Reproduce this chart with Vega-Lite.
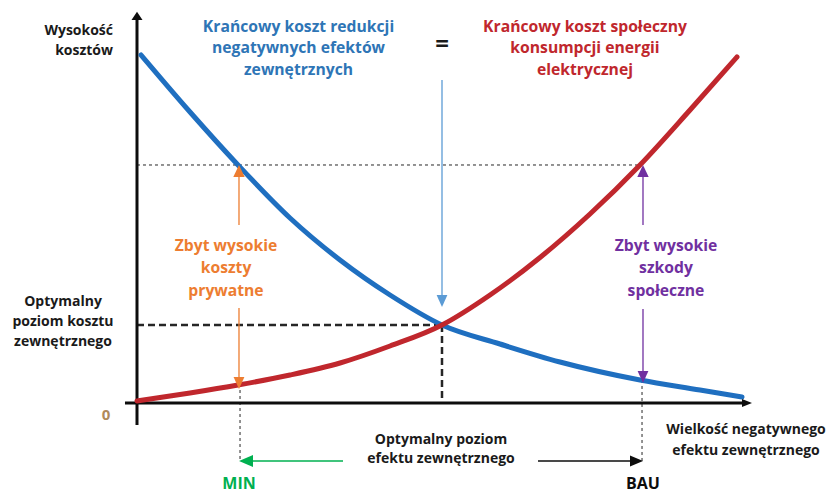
{
  "$schema": "https://vega.github.io/schema/vega-lite/v6.json",
  "width": 839,
  "height": 495,
  "padding": 0,
  "autosize": {"type": "none"},
  "background": "white",
  "config": {"view": {"stroke": null}, "font": "Open Sans"},
  "encoding": {
    "x": {"field": "x", "type": "quantitative", "scale": {"domain": [-22.459, 115.082], "nice": false, "zero": false}, "axis": null},
    "y": {"field": "y", "type": "quantitative", "scale": {"domain": [-26.59, 116.474], "nice": false, "zero": false}, "axis": null},
    "color": {
      "field": "s", "type": "nominal", "legend": null,
      "scale": {
        "domain": ["axis", "mac", "mac_text", "mac_arrow", "msc", "msc_text", "private", "social", "min", "bau", "guide", "label", "zero"],
        "range": ["#0d0d0d", "#1f6fc0", "#2e75b6", "#5b9bd5", "#c0272d", "#c0272d", "#ed7d31", "#7030a0", "#00b050", "#0d0d0d", "#262626", "#1a1a1a", "#b08a5a"]
      }
    }
  },
  "layer": [
    {
      "data": {"values": [
        {"s": "guide", "x": 0, "y": 68.79, "x2": 82.79, "y2": 68.79},
        {"s": "guide", "x": 16.89, "y": 5.49, "x2": 16.89, "y2": -17.05},
        {"s": "guide", "x": 82.79, "y": 6.65, "x2": 82.79, "y2": -17.05}
      ]},
      "mark": {"type": "rule", "strokeWidth": 1, "strokeDash": [3, 3]},
      "encoding": {"x2": {"field": "x2"}, "y2": {"field": "y2"}}
    },
    {
      "data": {"values": [
        {"s": "guide", "x": 0, "y": 22.54, "x2": 50, "y2": 22.54},
        {"s": "guide", "x": 50, "y": 22.54, "x2": 50, "y2": 0}
      ]},
      "mark": {"type": "rule", "strokeWidth": 2.5, "strokeDash": [7, 4]},
      "encoding": {"x2": {"field": "x2"}, "y2": {"field": "y2"}}
    },
    {
      "data": {"values": [
        {"s": "axis", "x": 0, "y": -6.36, "x2": 0, "y2": 111.0},
        {"s": "axis", "x": -1.97, "y": 0, "x2": 99.5, "y2": 0}
      ]},
      "mark": {"type": "rule", "strokeWidth": 3},
      "encoding": {"x2": {"field": "x2"}, "y2": {"field": "y2"}}
    },
    {
      "data": {"values": [
        {"s": "mac", "x": 0.66, "y": 100.58},
        {"s": "mac", "x": 8.69, "y": 84.10},
        {"s": "mac", "x": 16.56, "y": 68.79},
        {"s": "mac", "x": 25.08, "y": 53.47},
        {"s": "mac", "x": 33.28, "y": 41.33},
        {"s": "mac", "x": 41.48, "y": 31.21},
        {"s": "mac", "x": 50.0, "y": 22.54},
        {"s": "mac", "x": 59.51, "y": 17.05},
        {"s": "mac", "x": 69.34, "y": 11.85},
        {"s": "mac", "x": 82.46, "y": 6.65},
        {"s": "mac", "x": 92.30, "y": 3.76},
        {"s": "mac", "x": 99.18, "y": 1.73}
      ]},
      "mark": {"type": "line", "strokeWidth": 5, "interpolate": "monotone", "strokeCap": "round"}
    },
    {
      "data": {"values": [
        {"s": "msc", "x": 0, "y": 0.58},
        {"s": "msc", "x": 8.69, "y": 2.89},
        {"s": "msc", "x": 16.56, "y": 5.20},
        {"s": "msc", "x": 25.08, "y": 8.09},
        {"s": "msc", "x": 33.28, "y": 11.56},
        {"s": "msc", "x": 41.48, "y": 16.47},
        {"s": "msc", "x": 50.0, "y": 22.54},
        {"s": "msc", "x": 57.87, "y": 31.21},
        {"s": "msc", "x": 66.07, "y": 42.05},
        {"s": "msc", "x": 74.26, "y": 54.62},
        {"s": "msc", "x": 82.46, "y": 68.79},
        {"s": "msc", "x": 90.66, "y": 84.68},
        {"s": "msc", "x": 98.36, "y": 100.0}
      ]},
      "mark": {"type": "line", "strokeWidth": 5, "interpolate": "monotone", "strokeCap": "round"}
    },
    {
      "data": {"values": [
        {"s": "mac_arrow", "x": 50, "y": 93.35, "x2": 50, "y2": 29.77},
        {"s": "private", "x": 16.72, "y": 51.45, "x2": 16.72, "y2": 66.76},
        {"s": "private", "x": 16.72, "y": 27.46, "x2": 16.72, "y2": 6.65},
        {"s": "social", "x": 82.95, "y": 51.45, "x2": 82.95, "y2": 66.76},
        {"s": "social", "x": 82.95, "y": 27.17, "x2": 82.95, "y2": 8.96},
        {"s": "min", "x": 17.87, "y": -16.76, "x2": 33.77, "y2": -16.76},
        {"s": "bau", "x": 65.74, "y": -16.76, "x2": 81.89, "y2": -16.76}
      ]},
      "mark": {"type": "rule", "strokeWidth": 1.3},
      "encoding": {"x2": {"field": "x2"}, "y2": {"field": "y2"}}
    },
    {
      "data": {"values": [{"s": "axis", "x": 0, "y": 111.85}]},
      "mark": {"type": "point", "filled": true, "opacity": 1, "size": 121, "shape": "M0,-0.75L1,0.75L-1,0.75Z"}
    },
    {
      "data": {"values": [{"s": "axis", "x": 100.0, "y": 0}]},
      "mark": {"type": "point", "filled": true, "opacity": 1, "size": 100, "shape": "M1,0L-1,-0.8L-1,0.8Z"}
    },
    {
      "data": {"values": [
        {"s": "mac_arrow", "x": 50, "y": 29.48},
        {"s": "private", "x": 16.72, "y": 5.78},
        {"s": "social", "x": 82.95, "y": 7.51}
      ]},
      "mark": {"type": "point", "filled": true, "opacity": 1, "size": 144, "shape": "M0,1L0.9,-1L-0.9,-1Z"}
    },
    {
      "data": {"values": [
        {"s": "private", "x": 16.72, "y": 67.05},
        {"s": "social", "x": 82.95, "y": 67.05}
      ]},
      "mark": {"type": "point", "filled": true, "opacity": 1, "size": 144, "shape": "M0,-1L0.95,1L-0.95,1Z"}
    },
    {
      "data": {"values": [{"s": "min", "x": 17.87, "y": -16.76}]},
      "mark": {"type": "point", "filled": true, "opacity": 1, "size": 196, "shape": "M-1,0L1,-0.85L1,0.85Z"}
    },
    {
      "data": {"values": [{"s": "bau", "x": 81.89, "y": -16.76}]},
      "mark": {"type": "point", "filled": true, "opacity": 1, "size": 169, "shape": "M1,0L-1,-0.85L-1,0.85Z"}
    },
    {
      "data": {"values": [
        {"s": "mac_text", "x": 26.48, "y": 108.67, "t": "Krańcowy koszt redukcji"},
        {"s": "mac_text", "x": 26.48, "y": 102.60, "t": "negatywnych efektów"},
        {"s": "mac_text", "x": 26.48, "y": 96.24, "t": "zewnętrznych"},
        {"s": "msc_text", "x": 73.44, "y": 108.67, "t": "Krańcowy koszt społeczny"},
        {"s": "msc_text", "x": 73.44, "y": 102.60, "t": "konsumpcji energii"},
        {"s": "msc_text", "x": 73.44, "y": 96.24, "t": "elektrycznej"},
        {"s": "private", "x": 14.59, "y": 45.38, "t": "Zbyt wysokie"},
        {"s": "private", "x": 14.59, "y": 39.02, "t": "koszty"},
        {"s": "private", "x": 14.59, "y": 32.37, "t": "prywatne"},
        {"s": "social", "x": 86.72, "y": 45.38, "t": "Zbyt wysokie"},
        {"s": "social", "x": 86.72, "y": 39.02, "t": "szkody"},
        {"s": "social", "x": 86.72, "y": 32.37, "t": "społeczne"}
      ]},
      "mark": {"type": "text", "font": "Open Sans", "fontWeight": "bold", "fontSize": 15.7, "align": "center", "baseline": "middle"},
      "encoding": {"text": {"field": "t"}}
    },
    {
      "data": {"values": [
        {"s": "label", "x": -12.13, "y": 29.19, "t": "Optymalny"},
        {"s": "label", "x": -12.13, "y": 23.41, "t": "poziom kosztu"},
        {"s": "label", "x": -12.13, "y": 17.63, "t": "zewnętrznego"},
        {"s": "label", "x": 49.84, "y": -10.69, "t": "Optymalny poziom"},
        {"s": "label", "x": 49.84, "y": -16.18, "t": "efektu zewnętrznego"},
        {"s": "label", "x": 99.84, "y": -7.80, "t": "Wielkość negatywnego"},
        {"s": "label", "x": 99.84, "y": -13.87, "t": "efektu zewnętrznego"}
      ]},
      "mark": {"type": "text", "font": "Open Sans", "fontWeight": "bold", "fontSize": 14, "align": "center", "baseline": "middle"},
      "encoding": {"text": {"field": "t"}}
    },
    {
      "data": {"values": [
        {"s": "label", "x": -3.93, "y": 107.51, "t": "Wysokość"},
        {"s": "label", "x": -3.93, "y": 101.73, "t": "kosztów"}
      ]},
      "mark": {"type": "text", "font": "Open Sans", "fontWeight": "bold", "fontSize": 14, "align": "right", "baseline": "middle"},
      "encoding": {"text": {"field": "t"}}
    },
    {
      "data": {"values": [{"s": "label", "x": 50, "y": 103.47, "t": "="}]},
      "mark": {"type": "text", "font": "Open Sans", "fontWeight": "bold", "fontSize": 24, "align": "center", "baseline": "middle"},
      "encoding": {"text": {"field": "t"}}
    },
    {
      "data": {"values": [
        {"s": "min", "x": 16.72, "y": -23.41, "t": "MIN"},
        {"s": "bau", "x": 82.95, "y": -23.41, "t": "BAU"}
      ]},
      "mark": {"type": "text", "font": "Open Sans", "fontWeight": "bold", "fontSize": 16, "align": "center", "baseline": "middle"},
      "encoding": {"text": {"field": "t"}}
    },
    {
      "data": {"values": [{"s": "zero", "x": -5.08, "y": -3.47, "t": "0"}]},
      "mark": {"type": "text", "font": "Open Sans", "fontWeight": "bold", "fontSize": 15, "align": "center", "baseline": "middle"},
      "encoding": {"text": {"field": "t"}}
    }
  ]
}
